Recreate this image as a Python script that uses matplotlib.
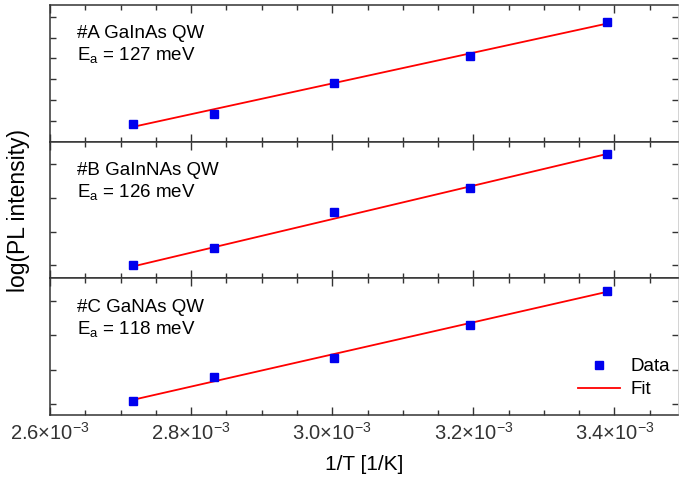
import numpy as np
import matplotlib
matplotlib.use("Agg")
import matplotlib.pyplot as plt
from matplotlib.ticker import MultipleLocator, FuncFormatter

plt.rcParams['font.family'] = ['Liberation Sans', 'DejaVu Sans']
plt.rcParams['mathtext.fontset'] = 'custom'
plt.rcParams['mathtext.rm'] = 'Liberation Sans'
plt.rcParams['mathtext.it'] = 'Liberation Sans'
plt.rcParams['mathtext.bf'] = 'Liberation Sans:bold'

# data (y in arbitrary log units per panel)
temps = [368, 353, 333, 313, 295]
inv_t = [1.0 / t for t in temps]
samples = ['#A GaInAs QW', '#B GaInNAs QW', '#C GaNAs QW']
energies = [127, 126, 118]
data_a = [0.86, 1.33, 2.81, 4.14, 5.76]
data_b = [0.0, 0.50, 1.59, 2.29, 3.29]
data_c = [0.09, 0.79, 1.35, 2.29, 3.29]
fit_a = [0.71, 5.68]
fit_b = [-0.03, 3.29]
fit_c = [0.12, 3.26]
ylims = [(0, 6.57), (-0.38, 3.65), (-0.32, 3.65)]

fig = plt.figure(figsize=(6.79, 4.83), dpi=100)
gs = fig.add_gridspec(3, 1, left=50/679, right=678/679, top=1-5/483, bottom=1-415/483, hspace=0)
axes = [fig.add_subplot(gs[i]) for i in range(3)]

fit_x = [inv_t[0], inv_t[-1]]
datas = [data_a, data_b, data_c]
fits = [fit_a, fit_b, fit_c]

def fmt(v, pos):
    return r'$%.1f{\times}10^{-3}$' % (v * 1e3)

for i, ax in enumerate(axes):
    ax.plot(inv_t, datas[i], 's', color='#0000ee', markersize=5.5, label='Data', zorder=3)
    ax.plot(fit_x, fits[i], '-', color='#ff0000', lw=1.3, label='Fit', zorder=2)
    ax.set_xlim(2.6e-3, 3.49e-3)
    ax.set_ylim(*ylims[i])
    ax.xaxis.set_major_locator(MultipleLocator(0.2e-3))
    ax.xaxis.set_minor_locator(MultipleLocator(0.05e-3))
    ax.yaxis.set_major_locator(MultipleLocator(1))
    ax.tick_params(axis='both', which='both', direction='in', top=True, right=True, colors='#333333', width=1)
    ax.tick_params(axis='x', which='major', length=6)
    ax.tick_params(axis='x', which='minor', length=3.5)
    ax.tick_params(axis='y', which='major', length=4, labelleft=False)
    ax.tick_params(axis='y', which='minor', left=False, right=False)
    for s in ['left', 'top', 'bottom']:
        ax.spines[s].set_color('#333333')
        ax.spines[s].set_linewidth(1.1)
    ax.spines['right'].set_color('#cccccc')
    ax.spines['right'].set_linewidth(0.6)
    ax.text(0.043, 0.755, samples[i], transform=ax.transAxes, fontsize=13.5, va='baseline')
    ax.text(0.043, 0.595, r'E$_\mathrm{a}$ = %d meV' % energies[i], transform=ax.transAxes,
            fontsize=13.5, va='baseline')
    if i < 2:
        ax.tick_params(axis='x', labelbottom=False)
    else:
        ax.xaxis.set_major_formatter(FuncFormatter(fmt))
        ax.tick_params(axis='x', labelsize=14.5, pad=5)

axes[2].set_xlabel('1/T [1/K]', fontsize=15, labelpad=8)
fig.text(0.027, 1 - 211/483, 'log(PL intensity)', rotation=90, fontsize=16.5, va='center', ha='center')

axes[2].legend(loc='lower right', frameon=False, fontsize=13.5, handlelength=2.2,
               handletextpad=0.6, labelspacing=0.3, bbox_to_anchor=(1.015, 0.0))

fig.savefig('out.png', dpi=100)
